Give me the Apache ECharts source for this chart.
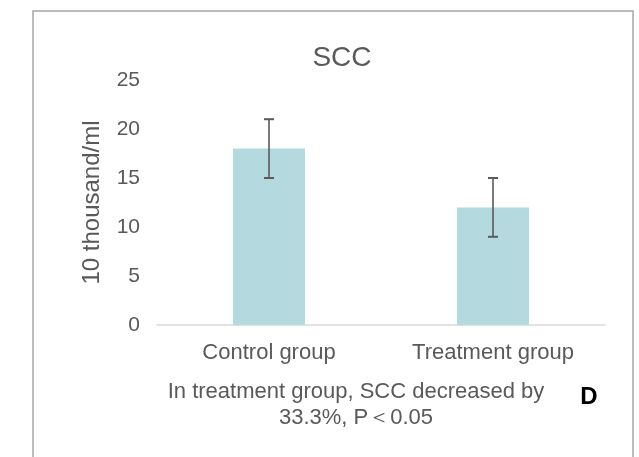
<!DOCTYPE html>
<html>
<head>
<meta charset="utf-8">
<script src="https://cdn.jsdelivr.net/npm/echarts@6/dist/echarts.min.js"></script>
<style>
  html, body { margin: 0; padding: 0; background: #fff; }
  #chart { width: 639px; height: 457px; }
</style>
</head>
<body>
<div id="chart"></div>
<script>
// SCC by group (10 thousand/ml), mean with error bar half-width
const categories = ['Control group', 'Treatment group'];
const meanValues = [18, 12];
const errorValues = [3, 3];
const yTicks = { min: 0, max: 25, interval: 5 };

const FONT = '"Liberation Sans", Arial, sans-serif';
const TEXT = '#595959';

const errorData = meanValues.map((m, i) => [i, m - errorValues[i], m + errorValues[i]]);

const chart = echarts.init(document.getElementById('chart'), null, { renderer: 'canvas' });
chart.setOption({
  backgroundColor: '#ffffff',
  animation: false,
  grid: { left: 157, right: 34, top: 80, bottom: 132 },
  xAxis: {
    type: 'category',
    data: categories,
    axisLine: { lineStyle: { color: '#d9d9d9', width: 1.5 } },
    axisTick: { show: false },
    axisLabel: { color: TEXT, fontSize: 22, fontFamily: FONT, margin: 17 }
  },
  yAxis: {
    type: 'value',
    min: yTicks.min, max: yTicks.max, interval: yTicks.interval,
    name: '10 thousand/ml',
    nameLocation: 'middle',
    nameGap: 53,
    nameRotate: 90,
    nameTextStyle: { color: TEXT, fontSize: 24, fontFamily: FONT },
    axisLine: { show: false },
    axisTick: { show: false },
    splitLine: { show: false },
    axisLabel: { color: TEXT, fontSize: 21, fontFamily: FONT, margin: 17 }
  },
  series: [
    {
      type: 'bar',
      data: meanValues,
      barWidth: 72,
      itemStyle: { color: '#b4d9de' }
    },
    {
      type: 'custom',
      data: errorData,
      z: 10,
      renderItem: function (params, api) {
        const x = api.value(0);
        const lo = api.coord([x, api.value(1)]);
        const hi = api.coord([x, api.value(2)]);
        const half = 5;
        const style = { stroke: '#5a5a5a', lineWidth: 1.6 };
        return {
          type: 'group',
          children: [
            { type: 'line', shape: { x1: lo[0], y1: lo[1], x2: hi[0], y2: hi[1] }, style: style },
            { type: 'line', shape: { x1: hi[0] - half, y1: hi[1], x2: hi[0] + half, y2: hi[1] }, style: { stroke: '#5a5a5a', lineWidth: 2 } },
            { type: 'line', shape: { x1: lo[0] - half, y1: lo[1], x2: lo[0] + half, y2: lo[1] }, style: { stroke: '#5a5a5a', lineWidth: 2 } }
          ]
        };
      }
    }
  ],
  graphic: [
    {
      type: 'rect',
      shape: { x: 33, y: 11, width: 600, height: 460 },
      style: { fill: 'none', stroke: '#a6a6a6', lineWidth: 1.5 },
      silent: true
    },
    {
      type: 'text', x: 342, y: 58,
      style: { text: 'SCC', fill: TEXT, font: '28px ' + FONT, textAlign: 'center', textVerticalAlign: 'middle' }
    },
    {
      type: 'text', x: 356, y: 392,
      style: { text: 'In treatment group, SCC decreased by', fill: TEXT, font: '22px ' + FONT, textAlign: 'center', textVerticalAlign: 'middle' }
    },
    {
      type: 'text', x: 356, y: 418,
      style: { text: '33.3%, P＜0.05', fill: TEXT, font: '22px ' + FONT, textAlign: 'center', textVerticalAlign: 'middle' }
    },
    {
      type: 'text', x: 589, y: 397,
      style: { text: 'D', fill: '#000000', font: 'bold 24px ' + FONT, textAlign: 'center', textVerticalAlign: 'middle' }
    }
  ]
});
</script>
</body>
</html>
